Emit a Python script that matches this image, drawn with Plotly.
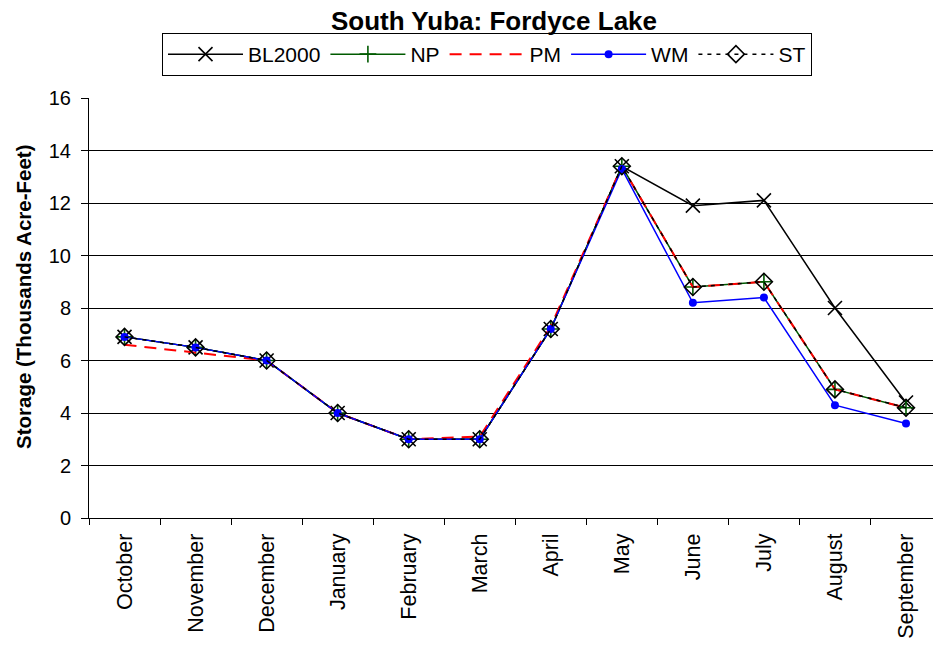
import plotly.graph_objects as go

months = ["October", "November", "December", "January", "February", "March",
          "April", "May", "June", "July", "August", "September"]

bl2000 = [6.9, 6.5, 6.0, 4.0, 3.0, 3.0, 7.2, 13.4, 11.9, 12.1, 8.0, 4.4]
np_ = [6.9, 6.5, 6.0, 4.0, 3.0, 3.0, 7.2, 13.4, 8.8, 9.0, 4.9, 4.2]
pm = [6.6, 6.3, 6.0, 4.0, 3.0, 3.1, 7.3, 13.4, 8.8, 9.0, 4.9, 4.2]
wm = [6.9, 6.5, 6.0, 4.0, 3.0, 3.0, 7.2, 13.3, 8.2, 8.4, 4.3, 3.6]
st = [6.9, 6.5, 6.0, 4.0, 3.0, 3.0, 7.2, 13.4, 8.8, 9.0, 4.9, 4.2]

FONT = "Liberation Sans, Arial, sans-serif"

fig = go.Figure()
fig.add_trace(go.Scatter(
    x=months, y=bl2000, name="BL2000", mode="lines+markers",
    line=dict(color="black", width=1.5),
    marker=dict(symbol="x-thin", size=14, line=dict(color="black", width=1.6)),
))
fig.add_trace(go.Scatter(
    x=months, y=np_, name="NP", mode="lines+markers",
    line=dict(color="#005a00", width=1.5),
    marker=dict(symbol="cross-thin", size=12, line=dict(color="#005a00", width=1.6)),
))
fig.add_trace(go.Scatter(
    x=months, y=pm, name="PM", mode="lines",
    line=dict(color="red", width=2, dash="12px,8px"),
))
fig.add_trace(go.Scatter(
    x=months, y=wm, name="WM", mode="lines+markers",
    line=dict(color="blue", width=1.5),
    marker=dict(symbol="circle", size=8, color="blue"),
))
fig.add_trace(go.Scatter(
    x=months, y=st, name="ST", mode="lines+markers",
    line=dict(color="black", width=1.5, dash="4px,5px"),
    marker=dict(symbol="diamond-open", size=13, color="black", line=dict(width=1.6)),
))

fig.update_layout(
    width=933, height=645,
    margin=dict(l=89, r=0, t=98, b=127, autoexpand=False),
    paper_bgcolor="white", plot_bgcolor="white",
    font=dict(family=FONT, size=21, color="black"),
    title=dict(text="<b>South Yuba: Fordyce Lake</b>", x=494 / 933, xanchor="center",
               y=1 - 21 / 645, yanchor="middle", font=dict(size=26, family=FONT)),
    legend=dict(orientation="h", x=73 / 844, xanchor="left", y=1 + 65 / 420, yanchor="top",
                bordercolor="black", borderwidth=1, bgcolor="white",
                font=dict(size=21, family=FONT), itemwidth=75,
                tracegroupgap=0),
    showlegend=True,
    annotations=[dict(
        text="<b>Storage (Thousands Acre-Feet)</b>", textangle=-90,
        xref="paper", yref="paper", x=-66 / 844, y=221 / 420,
        xanchor="center", yanchor="middle", showarrow=False,
        font=dict(size=20.5, family=FONT, color="black"),
    )],
)
fig.update_yaxes(
    range=[0, 16], dtick=2, showgrid=True, gridcolor="black", gridwidth=1,
    ticks="outside", ticklen=7, tickcolor="black",
    showline=True, linecolor="black", linewidth=1,
    zeroline=False, automargin=False,
    tickfont=dict(size=20), ticklabelstandoff=6,
)
fig.update_xaxes(
    range=[-0.5, 11.38], autorange=False,
    tickangle=-90, showgrid=False, ticks="outside", ticklen=6,
    tickson="boundaries", tickcolor="black", automargin=False,
    showline=True, linecolor="black", linewidth=1,
    tickfont=dict(size=21.5), ticklabelstandoff=6,
)

fig.write_html("out.html")
